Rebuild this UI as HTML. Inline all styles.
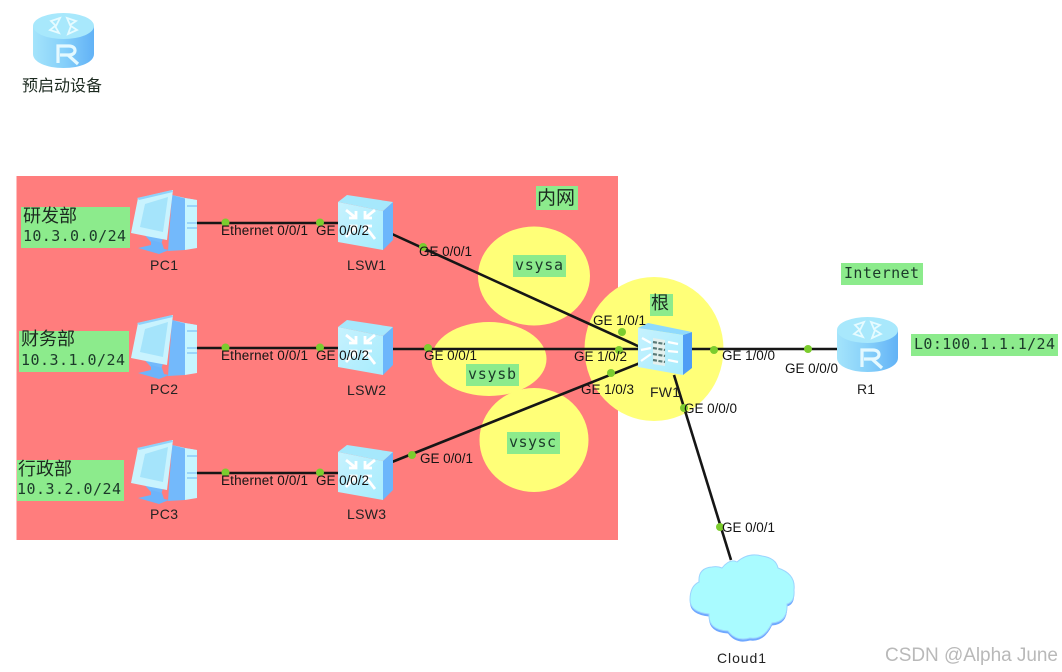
<!DOCTYPE html>
<html><head><meta charset="utf-8"><style>
html,body{margin:0;padding:0;background:#fff}
svg{display:block;filter:blur(.35px)}
.l{font-family:"Liberation Sans",sans-serif;font-size:13.500px;fill:#141414}
.n{font-family:"Liberation Sans",sans-serif;font-size:14px;fill:#222}
.m{font-family:"DejaVu Sans Mono","Liberation Mono",monospace;font-size:15px;fill:#1c3a2a}
.c{font-family:"Liberation Sans","Noto Sans CJK SC",sans-serif;font-size:18px;fill:#1c2a20}
</style></head><body>
<svg width="1062" height="672" viewBox="0 0 1062 672" xmlns="http://www.w3.org/2000/svg">
<defs>
<linearGradient id="rs" x1="0" x2="1" y1="0" y2="0"><stop offset="0" stop-color="#a4e4fb"/><stop offset=".5" stop-color="#86d0fa"/><stop offset="1" stop-color="#62b2f6"/></linearGradient>
<linearGradient id="sw" x1="0" x2="1" y1="0" y2="1"><stop offset="0" stop-color="#c6f2fe"/><stop offset="1" stop-color="#a8ecfd"/></linearGradient>
<symbol id="router" width="61" height="56" viewBox="0 0 61 56" overflow="visible">
<path d="M0 13V41C0 49 13 55 30.500 55S61 49 61 41V13Z" fill="url(#rs)"/>
<ellipse cx="30.500" cy="13" rx="30.500" ry="13" fill="#a8e8fc"/>
<g fill="none" stroke="#e6fbff" stroke-width="1.800"><path d="M27 5L18 8L23 13ZM34 5L43 8L37 12ZM26 20L17 17L22 13ZM35 21L44 17L38 13Z"/></g>
<path d="M25 50V33H36C44 33 44 42 36 42H27M35 42L45 51" fill="none" stroke="#e4f9ff" stroke-width="3.200"/>
</symbol>
<symbol id="pc" width="66" height="64" viewBox="0 0 66 64" overflow="visible">
<path d="M41 5L54 8L54 60L37 61Z" fill="#73b9fb"/>
<path d="M54 8L66 10V58L54 60Z" fill="#c6f5ff"/>
<path d="M41 5L54 8L66 10L56 9Z" fill="#bfeeff"/>
<path d="M56 16H66M56 33H66M56 38H66" stroke="#7fc2f8" stroke-width="1.300"/>
<path d="M7 38H35L30 55L20 52Z" fill="#73b9fb"/>
<path d="M20 50L31 53L33 59L38 60L28 64L7 58L20 55Z" fill="#6db4fb"/>
<path d="M0 43L7 8L42 0L36 50L20 47Z" fill="#c9f3fe"/>
<path d="M6 8L41 0L42 2L8 10Z" fill="#8fd2fb"/>
<path d="M9 37L14 14L37 7L32 42Z" fill="#a5e4fb"/>
</symbol>
<symbol id="switch" width="56" height="56" viewBox="0 0 56 56" overflow="visible">
<path d="M45 16L55 7V45L45 55Z" fill="#6cb6fb"/>
<path d="M0 7L9 0L55 7L45 16Z" fill="#a6e8fc"/>
<path d="M0 7L45 16V55L0 47Z" fill="url(#sw)"/>
<g stroke="#fff" stroke-width="2.800" fill="none"><path d="M8 15L18 23M18 16V23H11M37 15L27 23M27 16V23H34M8 42L18 31M11 31H18V38M37 44L27 31M34 31H27V38"/></g>
</symbol>
<symbol id="fw" width="56" height="56" viewBox="0 0 56 56" overflow="visible">
<path d="M45 12L54 9V45L45 52Z" fill="#4f9df5"/>
<path d="M0 5L10 0L54 9L45 12Z" fill="#8fdafd"/>
<path d="M0 5L45 12V52L0 44Z" fill="url(#sw)"/>
<path d="M15 15L27 17V43L15 41Z" fill="#e4f0ee"/>
<path d="M15 19L27 21M15 25L27 27M15 31L27 33M15 37L27 39" stroke="#5b7b78" stroke-width="2.200" stroke-dasharray="4 1.500"/>
<g stroke="#fff" stroke-width="2.200"><path d="M4 15L13 20M3 27L13 25M3 38L13 31M30 19L40 21M30 28L40 29M30 37L40 39"/></g>
</symbol>
</defs>

<rect width="1062" height="672" fill="#fff"/>
<rect x="16.500" y="176" width="601.500" height="364" fill="#ff7d7d"/>
<ellipse cx="534" cy="276" rx="56" ry="49.500" fill="#ffff78"/>
<ellipse cx="489" cy="359" rx="57.500" ry="37" fill="#ffff78"/>
<ellipse cx="534" cy="440" rx="54.500" ry="52" fill="#ffff78"/>
<ellipse cx="654" cy="349" rx="69.500" ry="72" fill="#ffff78"/>

<g fill="#8ceb8c">
<rect x="536" y="186" width="42" height="24"/>
<rect x="21" y="207" width="109" height="41"/>
<rect x="19" y="331" width="110" height="41"/>
<rect x="17" y="460" width="107" height="41"/>
<rect x="513" y="255" width="53" height="22"/>
<rect x="466" y="364" width="53" height="22"/>
<rect x="507" y="432" width="53" height="22"/>
<rect x="650" y="294" width="23" height="22"/>
<rect x="841" y="263" width="82" height="22"/>
<rect x="911" y="334" width="147" height="22"/>
</g>

<g stroke="#161616" stroke-width="2.600" fill="none">
<path d="M196 223H340M196 348H340M196 473H340"/>
<path d="M392 234L640 347"/>
<path d="M392 349H640"/>
<path d="M392 462L640 363"/>
<path d="M690 349L838 349"/>
<path d="M674 375L731 560"/>
</g>

<use href="#router" x="33" y="13"/>
<use href="#router" x="837" y="317"/>
<use href="#pc" x="131" y="190"/>
<use href="#pc" x="131" y="315"/>
<use href="#pc" x="131" y="440"/>
<use href="#switch" x="338" y="195"/>
<use href="#switch" x="338" y="320"/>
<use href="#switch" x="338" y="445"/>
<use href="#fw" x="638" y="323"/>

<path d="M722 568Q730 558 737 562Q748 552 762 556Q776 558 778 568Q796 574 794 590Q795 602 787 604Q788 622 772 623Q764 640 750 638Q736 642 728 631Q708 630 709 614Q690 612 690 600Q690 586 699 582Q698 568 712 567Q718 566 722 568Z" fill="#6fa8ff" transform="translate(0,2.500)"/>
<path d="M722 568Q730 558 737 562Q748 552 762 556Q776 558 778 568Q796 574 794 590Q795 602 787 604Q788 622 772 623Q764 640 750 638Q736 642 728 631Q708 630 709 614Q690 612 690 600Q690 586 699 582Q698 568 712 567Q718 566 722 568Z" fill="#a9fbff" stroke="#9cd4ff"/>

<g fill="#7ccc2e">
<circle cx="225.500" cy="222.500" r="4"/><circle cx="320" cy="222.500" r="4"/>
<circle cx="225.500" cy="347.500" r="4"/><circle cx="320" cy="347.500" r="4"/>
<circle cx="225.500" cy="472.500" r="4"/><circle cx="320" cy="472.500" r="4"/>
<circle cx="423" cy="247" r="4"/><circle cx="428" cy="348" r="4"/><circle cx="412" cy="455" r="4"/>
<circle cx="622" cy="332" r="4"/><circle cx="619" cy="350" r="4"/><circle cx="611" cy="373" r="4"/>
<circle cx="714" cy="350" r="4"/><circle cx="808" cy="349" r="4"/>
<circle cx="684" cy="408" r="4"/><circle cx="720" cy="527" r="4"/>
</g>

<g class="l">
<text x="221" y="235" textLength="87">Ethernet 0/0/1</text>
<text x="316" y="235" textLength="53">GE 0/0/2</text>
<text x="221" y="360" textLength="87">Ethernet 0/0/1</text>
<text x="316" y="360" textLength="53">GE 0/0/2</text>
<text x="221" y="485" textLength="87">Ethernet 0/0/1</text>
<text x="316" y="485" textLength="53">GE 0/0/2</text>
<text x="419" y="256" textLength="53">GE 0/0/1</text>
<text x="424" y="360" textLength="53">GE 0/0/1</text>
<text x="420" y="463" textLength="53">GE 0/0/1</text>
<text x="593" y="325" textLength="53">GE 1/0/1</text>
<text x="574" y="361" textLength="53">GE 1/0/2</text>
<text x="581" y="394" textLength="53">GE 1/0/3</text>
<text x="722" y="360" textLength="53">GE 1/0/0</text>
<text x="785" y="373" textLength="53">GE 0/0/0</text>
<text x="684" y="413" textLength="53">GE 0/0/0</text>
<text x="722" y="532" textLength="53">GE 0/0/1</text>
</g>
<g class="n">
<text x="150" y="270" textLength="28">PC1</text>
<text x="150" y="394" textLength="28">PC2</text>
<text x="150" y="519" textLength="28">PC3</text>
<text x="347" y="270" textLength="39">LSW1</text>
<text x="347" y="395" textLength="39">LSW2</text>
<text x="347" y="519" textLength="39">LSW3</text>
<text x="650" y="397" textLength="30">FW1</text>
<text x="857" y="394" textLength="18">R1</text>
<text x="717" y="663" textLength="49">Cloud1</text>
</g>

<g class="c">
<text x="22" y="91" style="font-size:16px">预启动设备</text>
<text x="23" y="222">研发部</text>
<text x="21" y="345">财务部</text>
<text x="18" y="475">行政部</text>
<text x="537" y="204" style="font-size:19px">内网</text>
<text x="651" y="309">根</text>
</g>
<g class="m">
<text x="23" y="241" textLength="103">10.3.0.0/24</text>
<text x="21" y="365" textLength="104">10.3.1.0/24</text>
<text x="17" y="494" textLength="104">10.3.2.0/24</text>
<text x="515" y="270" textLength="48">vsysa</text>
<text x="468" y="379" textLength="48">vsysb</text>
<text x="509" y="447" textLength="47">vsysc</text>
<text x="844" y="278" textLength="75">Internet</text>
<text x="914" y="349" textLength="141">L0:100.1.1.1/24</text>
</g>
<text x="885" y="661" font-family="Liberation Sans,sans-serif" font-size="19" fill="#b9b9b9" textLength="173">CSDN @Alpha June</text>
</svg>
</body></html>
